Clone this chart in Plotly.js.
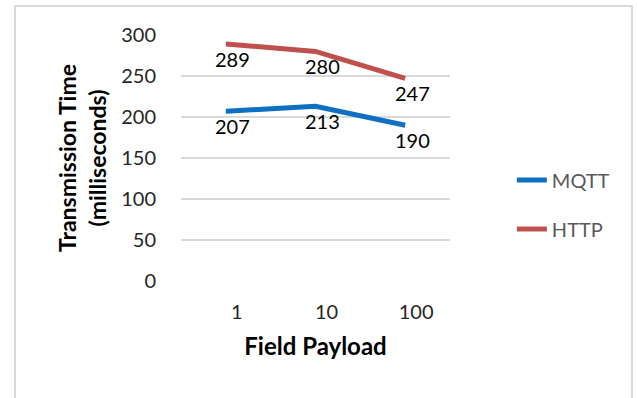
<!DOCTYPE html>
<html>
<head>
<meta charset="utf-8">
<script src="https://cdn.plot.ly/plotly-3.0.1.min.js"></script>
<style>
html,body{margin:0;padding:0;background:#fff;}
#wrap{position:relative;width:637px;height:398px;overflow:hidden;}
#chart{position:absolute;left:0;top:0;width:637px;height:398px;}
#frame{position:absolute;left:14px;top:5px;width:619px;height:420px;border:2px solid #d9d9d9;pointer-events:none;box-sizing:border-box;}
</style>
</head>
<body>
<div id="wrap"><div id="chart"></div><div id="frame"></div></div>
<script>
const categories = ['1', '10', '100'];
const mqtt = [207, 213, 190];
const http = [289, 280, 247];
const seriesNames = ['MQTT', 'HTTP'];
const yTicks = [0, 50, 100, 150, 200, 250, 300];

const FONT = 'Lato, "Open Sans", sans-serif';
const colors = ['#0F70C3', '#C0504D'];

const traces = [mqtt, http].map((vals, i) => ({
  x: categories,
  y: vals,
  type: 'scatter',
  mode: 'lines',
  name: seriesNames[i],
  legendgroup: seriesNames[i],
  line: {color: colors[i], width: 5},
  hoverinfo: 'skip'
}));

const annotations = [];
[mqtt, http].forEach(vals => {
  vals.forEach((v, j) => {
    annotations.push({
      x: j, y: v, xref: 'x', yref: 'y',
      text: String(v), showarrow: false,
      xshift: 7, yshift: -15,
      font: {family: FONT, size: 20, color: '#000'}
    });
  });
});

const layout = {
  width: 637, height: 398,
  margin: {l: 181, r: 187, t: 35, b: 117},
  paper_bgcolor: '#fff', plot_bgcolor: '#fff',
  showlegend: true,
  legend: {
    x: 1.23, y: 0.49, xanchor: 'left', yanchor: 'top',
    font: {family: FONT, size: 20, color: '#595959'},
    traceorder: 'grouped', tracegroupgap: 20,
    bgcolor: 'rgba(0,0,0,0)'
  },
  xaxis: {
    type: 'category',
    range: [-0.5, 2.5], autorange: false,
    showgrid: false, zeroline: false, showline: false,
    ticks: 'outside', ticklen: 13, tickcolor: 'rgba(0,0,0,0)',
    ticklabelshift: 11,
    tickfont: {family: FONT, size: 20, color: '#262626'},
    title: {text: 'Field Payload', standoff: 16,
      font: {family: FONT, size: 24, color: '#000', weight: 'bold'}},
    automargin: false, fixedrange: true
  },
  yaxis: {
    range: [0, 300], autorange: false,
    tickvals: yTicks,
    showgrid: true, gridcolor: '#d9d9d9', gridwidth: 1.5,
    zeroline: false, showline: false,
    ticks: 'outside', ticklen: 20, tickcolor: 'rgba(0,0,0,0)',
    tickfont: {family: FONT, size: 20, color: '#262626'},
    title: {text: 'Transmission Time<br>(milliseconds)', standoff: 8,
      font: {family: FONT, size: 23, color: '#000', weight: 'bold'}},
    automargin: false, fixedrange: true
  },
  annotations: annotations
};

Plotly.newPlot('chart', traces, layout, {staticPlot: true, displayModeBar: false});
</script>
</body>
</html>
